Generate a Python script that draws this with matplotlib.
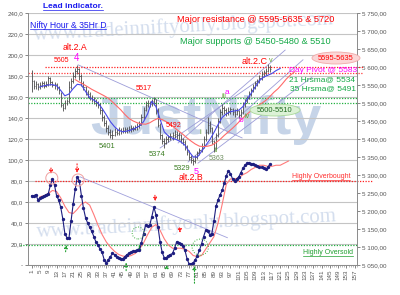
import matplotlib
matplotlib.use("Agg")
import matplotlib.pyplot as plt
from matplotlib.patches import Ellipse
from matplotlib.lines import Line2D

plt.rcParams['font.family'] = ['Liberation Sans', 'DejaVu Sans']

# hourly price bars, bar number 1..116
bar_close = [5560, 5548, 5552, 5545, 5550, 5555, 5548, 5552, 5570, 5558,
             5550, 5552, 5545, 5535, 5495, 5485, 5500, 5505, 5545, 5560,
             5575, 5590, 5595, 5575, 5555, 5545, 5530, 5525, 5515, 5512,
             5505, 5500, 5495, 5480, 5460, 5445, 5430, 5420, 5410, 5412,
             5420, 5418, 5425, 5422, 5424, 5428, 5425, 5428, 5430, 5428,
             5432, 5436, 5440, 5460, 5480, 5495, 5500, 5498, 5505, 5510,
             5480, 5440, 5410, 5395, 5390, 5400, 5405, 5408, 5410, 5415,
             5412, 5410, 5400, 5392, 5380, 5365, 5350, 5342, 5338, 5350,
             5360, 5370, 5380, 5400, 5420, 5440, 5430, 5395, 5375, 5410,
             5450, 5475, 5485, 5480, 5472, 5478, 5482, 5476, 5470, 5478,
             5468, 5475, 5495, 5505, 5515, 5525, 5535, 5545, 5555, 5560,
             5570, 5580, 5585, 5590, 5600, 5595]
bar_high = [5592, 5565, 5560, 5556, 5558, 5562, 5560, 5562, 5576, 5572,
            5562, 5558, 5556, 5548, 5530, 5500, 5508, 5512, 5560, 5570,
            5585, 5598, 5606, 5598, 5580, 5562, 5548, 5536, 5530, 5522,
            5518, 5512, 5505, 5500, 5485, 5466, 5452, 5440, 5428, 5425,
            5430, 5428, 5432, 5430, 5432, 5434, 5433, 5436, 5438, 5437,
            5440, 5444, 5450, 5470, 5490, 5505, 5508, 5506, 5512, 5518,
            5512, 5485, 5445, 5415, 5402, 5408, 5412, 5416, 5420, 5424,
            5422, 5420, 5414, 5404, 5396, 5384, 5370, 5356, 5348, 5356,
            5366, 5376, 5388, 5408, 5428, 5462, 5450, 5432, 5398, 5418,
            5458, 5482, 5498, 5492, 5486, 5488, 5490, 5486, 5482, 5486,
            5480, 5484, 5502, 5512, 5520, 5532, 5542, 5552, 5562, 5568,
            5578, 5588, 5592, 5598, 5608, 5605]
bar_low = [5530, 5540, 5538, 5536, 5540, 5545, 5542, 5544, 5548, 5550,
           5544, 5540, 5535, 5525, 5488, 5478, 5482, 5494, 5500, 5540,
           5555, 5570, 5580, 5565, 5548, 5535, 5522, 5515, 5508, 5502,
           5498, 5492, 5485, 5470, 5450, 5435, 5420, 5410, 5402, 5401,
           5408, 5410, 5412, 5414, 5416, 5418, 5417, 5420, 5420, 5421,
           5424, 5426, 5430, 5438, 5455, 5478, 5488, 5488, 5492, 5495,
           5470, 5432, 5400, 5385, 5376, 5386, 5392, 5396, 5398, 5402,
           5400, 5398, 5390, 5382, 5370, 5355, 5342, 5334, 5329, 5332,
           5345, 5355, 5365, 5375, 5395, 5415, 5420, 5385, 5363, 5372,
           5405, 5445, 5468, 5470, 5464, 5466, 5470, 5466, 5462, 5466,
           5458, 5462, 5470, 5490, 5500, 5510, 5520, 5530, 5540, 5548,
           5555, 5565, 5572, 5578, 5585, 5586]

# hourly moving averages drawn on the price bars
fast_ma_x = list(range(5, 122, 2))
fast_ma = [5545, 5548, 5550, 5551, 5548, 5535, 5520, 5525, 5540, 5552,
           5550, 5532, 5515, 5508, 5500, 5485, 5467, 5448, 5434, 5424,
           5420, 5422, 5425, 5430, 5436, 5448, 5470, 5505, 5490, 5455,
           5420, 5408, 5402, 5398, 5392, 5383, 5365, 5350, 5350, 5365,
           5382, 5398, 5418, 5440, 5460, 5470, 5476, 5478, 5480, 5490,
           5510, 5527, 5545, 5562, 5572, 5577, 5582, 5590, 5596]
slow_ma_x = list(range(22, 129, 2))
slow_ma = [5565, 5558, 5552, 5545, 5538, 5532, 5526, 5520, 5513, 5503,
           5492, 5481, 5468, 5457, 5450, 5445, 5442, 5441, 5445, 5452,
           5457, 5454, 5448, 5440, 5431, 5422, 5413, 5403, 5394, 5386,
           5380, 5379, 5380, 5383, 5390, 5399, 5410, 5420, 5430, 5441,
           5453, 5464, 5474, 5484, 5492, 5499, 5507, 5518, 5530, 5540,
           5553, 5567, 5578, 5587]

# lead indicator (left scale)
lead = [66, 66, 67, 62, 64, 65, 66, 67, 68, 76,
        82, 76, 66, 62, 55, 44, 30, 26, 26, 42,
        58, 72, 84, 80, 66, 54, 45, 40, 36, 32,
        27, 22, 19, 15, 12, 5, 2, 5, 8, 11,
        10, 8, 7, 6, 6, 8, 10, 11, 12, 13,
        13, 14, 14, 21, 30, 38, 37, 38, 46, 55,
        48, 36, 22, 12, 7, 7, 9, 10, 11, 16,
        22, 21, 20, 18, 14, 6, 1, 1, 2, 5,
        9, 14, 20, 27, 33, 32, 29, 30, 42, 56,
        62, 67, 71, 78, 85, 90, 87, 82, 80, 82,
        84, 88, 92, 95, 97, 97, 96, 96, 95, 94,
        93, 93, 92, 91, 93, 96]
lead_sig_x = list(range(5, 126, 2))
lead_sig = [65, 66, 68, 71, 70, 64, 56, 50, 49, 53,
            58, 60, 57, 48, 38, 29, 22, 17, 13, 10,
            8.5, 8, 9, 11, 15, 21, 29, 36, 38.5, 33,
            25, 19, 16, 16, 16, 15, 13, 9, 8, 9,
            15, 21, 27, 40, 58, 77, 82, 82, 83, 86,
            88, 91, 93, 95, 95, 94, 94, 95, 95, 97,
            99]

# levels
resist_lines = [5600, 5582]
support_lines = [5513, 5499]
overbought = 80
oversold = 19

# hand drawn trend lines on price: (bar, price) -> (bar, price)
trend_lines = [((23.4, 5606), (102.6, 5403)),
               ((71.7, 5389), (123.4, 5647)),
               ((76.5, 5336), (132.0, 5620)),
               ((81.3, 5333), (136.4, 5572)),
               ((63.0, 5375), (112.3, 5570))]
lead_trend = ((24.3, 84), (95.5, 26))

W, H = 400, 295
fig = plt.figure(figsize=(4, 2.95), dpi=100)
fig.patch.set_facecolor('white')


def px(x, y):
    return x / W, 1 - y / H


def ptext(x, y, s, **kw):
    kw.setdefault('ha', 'center')
    kw.setdefault('va', 'center')
    kw.setdefault('zorder', 6)
    return fig.text(*px(x, y), s, **kw)


# watermarks behind the chart
wm = '#d4deee'
for wy, wx in [(27, 184), (224, 187)]:
    fig.text(*px(wx, wy), 'www.tradeinniftyonly.blogspot.com', family=['Liberation Serif', 'DejaVu Serif'],
             fontsize=15, color=wm, rotation=3, ha='center', va='center', zorder=-2)
fig.text(*px(206, 120), 'JustNifty', family=['Liberation Sans', 'DejaVu Sans'],
         fontsize=39, fontweight='bold', color='#c6d4e8', ha='center', va='center', zorder=-2)

ax = fig.add_axes([28 / W, 1 - 265 / H, 329 / W, 252 / H])
ax.patch.set_visible(False)
ax.set_xlim(-0.8, 158.1)
ax.set_ylim(0, 240)
ax2 = ax.twinx()
ax2.set_ylim(5050, 5750)
ax2.patch.set_visible(False)

ax.set_yticks(range(0, 241, 20))
ax.set_yticklabels(['-' if v == 0 else f'{v},0' for v in range(0, 241, 20)])
ax2.set_yticks(range(5050, 5751, 50))
ax2.set_yticklabels([f'5 {v - 5000:03d},00' for v in range(5050, 5751, 50)])
ax.set_xticks(range(1, 158, 4))
ax.set_xticklabels([str(v) for v in range(1, 158, 4)], rotation=90)
ax.set_xticks(range(1, 159), minor=True)
ax.yaxis.grid(True, color='#c4c4c4', lw=0.8)
ax.set_axisbelow(True)
for a in (ax, ax2):
    a.tick_params(labelsize=4.5, colors='#555555', length=2, width=0.5, pad=1.5)
    a.tick_params(which='minor', length=1.2, width=0.4, colors='#888888')
    a.spines['top'].set_visible(False)
    for s in ('left', 'right', 'bottom'):
        a.spines[s].set_color('#8c8c8c')
        a.spines[s].set_linewidth(0.6)

# price bars
bars_x = list(range(1, len(bar_close) + 1))
ax2.vlines(bars_x, bar_low, bar_high, color='#4a4a4a', lw=0.6, zorder=3)
ax2.hlines(bar_close, bars_x, [x + 0.7 for x in bars_x], color='#4a4a4a', lw=0.5, zorder=3)
ax2.plot(fast_ma_x, fast_ma, color='#4848e8', lw=0.8, zorder=4)
ax2.plot(slow_ma_x, slow_ma, color='#ff6a6a', lw=0.8, zorder=4)

for (x0, y0), (x1, y1) in trend_lines:
    ax2.plot([x0, x1], [y0, y1], color='#9c9cd8', lw=0.6, zorder=2)

dots = (0, (1, 1.2))
ax2.plot([7.4, 161], [resist_lines[0]] * 2, color='#ff2020', lw=0.9, ls=dots, clip_on=False)
ax2.plot([-0.8, 161], [resist_lines[1]] * 2, color='#ff3a3a', lw=0.9, ls=dots, clip_on=False)
for lv in support_lines:
    ax2.plot([-0.8, 158.6], [lv, lv], color='#22b040', lw=0.9, ls=dots, clip_on=False)

# lead indicator
ax.plot(range(1, len(lead) + 1), lead, color='#1e1e80', lw=0.8, marker='o', ms=1.4, zorder=4)
ax.plot(lead_sig_x, lead_sig, color='#ff7a7a', lw=0.8, zorder=3)
ax.plot([lead_trend[0][0], lead_trend[1][0]], [lead_trend[0][1], lead_trend[1][1]],
        color='#a0a0dc', lw=0.6, zorder=2)
ax.plot([2.6, 165.9], [overbought] * 2, color='#ff2020', lw=0.9, ls=dots, clip_on=False)
ax.plot([-4.7, 158.6], [oversold] * 2, color='#22b040', lw=0.9, ls=dots, clip_on=False)

for cx, cy in [(10.7, 82.8), (23.4, 81)]:
    ax.add_patch(Ellipse((cx, cy), 5.8, 11.4, fill=False, ec='#f0a0a0', lw=0.7, zorder=5))
for cx, cy, r in [(52.4, 30.5, 1.0), (82.4, 17, 1.35)]:
    ax.add_patch(Ellipse((cx, cy), 5.8 * r, 11.4 * r, fill=False, ec='#40b040', lw=0.7, ls=':', zorder=5))

for (hx, hy), (tx, ty) in [((10.3, 84), (10.3, 95)), ((22.9, 85), (22.9, 99)),
                           ((60.8, 58), (60.4, 69)), ((72.8, 28), (72.3, 38))]:
    ax.annotate('', xy=(hx, hy), xytext=(tx, ty), annotation_clip=False,
                arrowprops=dict(arrowstyle='-|>', color='#ff2020', lw=0.8, ls=':', mutation_scale=5))
for (hx, hy), (tx, ty) in [((17.9, 22), (17.2, 10)), ((46.6, 5), (46.6, -8)), ((53, 21), (53, 14)),
                           ((66.2, 3), (66.2, -5)), ((79.6, 2), (79.6, -20))]:
    ax.annotate('', xy=(hx, hy), xytext=(tx, ty), annotation_clip=False,
                arrowprops=dict(arrowstyle='-|>', color='#20a030', lw=0.8, ls=':', mutation_scale=5))

# labels
red, mag, grn, dgrn = '#ff0000', '#ff00ff', '#13a845', '#3b7d22'
t_lead = ptext(73, 7, 'Lead indicator.', color='#1a1aee', fontsize=6, fontweight='bold')
t_nifty = ptext(68, 25, 'Nifty Hour & 35Hr D', color='#1a1aee', fontsize=6.2)
ptext(256, 20, 'Major resistance @ 5595-5635 & 5720', color=red, fontsize=6.6)
ptext(255, 42, 'Major supports @ 5450-5480 & 5510', color=grn, fontsize=6.6)
ptext(75, 48, 'alt.2.A', color=red, fontsize=6.3)
ptext(61, 60, '5605', color=red, fontsize=5)
ptext(77, 58, '4', color=mag, fontsize=7)
ptext(144, 88, '5517', color=red, fontsize=5.2)
ptext(174, 126, '5492', color=red, fontsize=5)
ptext(107, 147, '5401', color=dgrn, fontsize=5.4)
ptext(157, 154, '5374', color=dgrn, fontsize=5.4)
ptext(182, 168, '5329', color=dgrn, fontsize=5.4)
ptext(196, 171, '5', color=mag, fontsize=6.5)
ptext(191, 177, 'alt.2.B', color=red, fontsize=6.3)
ptext(217, 158, '5363', color='#6f8f60', fontsize=5)
for x, y, s in [(200, 132, 'i'), (216, 150, 'ii'), (224, 97, 'iii'), (247, 116, 'iv'), (271, 61, 'v')]:
    ptext(x, y, s, color='#5ea032', fontsize=5.2)
ptext(227, 92, 'a', color=mag, fontsize=6)
ptext(241, 120, 'b', color=mag, fontsize=6)
ptext(255, 62, 'alt.2.C', color=red, fontsize=6.5)

fig.add_artist(Ellipse(px(336, 58), 48 / W, 12 / H, transform=fig.transFigure,
                       fc='#fbd6d6', ec='#f0a8a8', lw=0.6, zorder=5))
ptext(336, 58, '5595-5635', color=red, fontsize=5.4)
ptext(323, 70, 'Day Pivot @ 5583', color=mag, fontsize=6)
ptext(322, 80, '21 Hrsma@ 5534', color=grn, fontsize=6)
ptext(323, 89, '35 Hrsma@ 5491', color=grn, fontsize=6)
fig.add_artist(Ellipse(px(275, 110), 50 / W, 12 / H, transform=fig.transFigure,
                       fc='#dcf2d6', ec='#a8d898', lw=0.6, zorder=5))
ptext(275, 110, '5500-5510', color='#1f6a1f', fontsize=5.4)

t_ob = ptext(321, 177, 'Highly Overbought', color='#ff3030', fontsize=5)
t_os = ptext(328, 253, 'Highly Oversold', color='#20a030', fontsize=5)

# underline a few labels, like the original
fig.canvas.draw()
r = fig.canvas.get_renderer()
for t in (t_lead, t_nifty, t_ob, t_os):
    bb = t.get_window_extent(r)
    y = bb.y0 + 0.3
    fig.add_artist(Line2D([bb.x0 / W, bb.x1 / W], [y / H, y / H], transform=fig.transFigure,
                          color=t.get_color(), lw=0.5, zorder=6))

fig.savefig('out.png', dpi=100, facecolor='white')
